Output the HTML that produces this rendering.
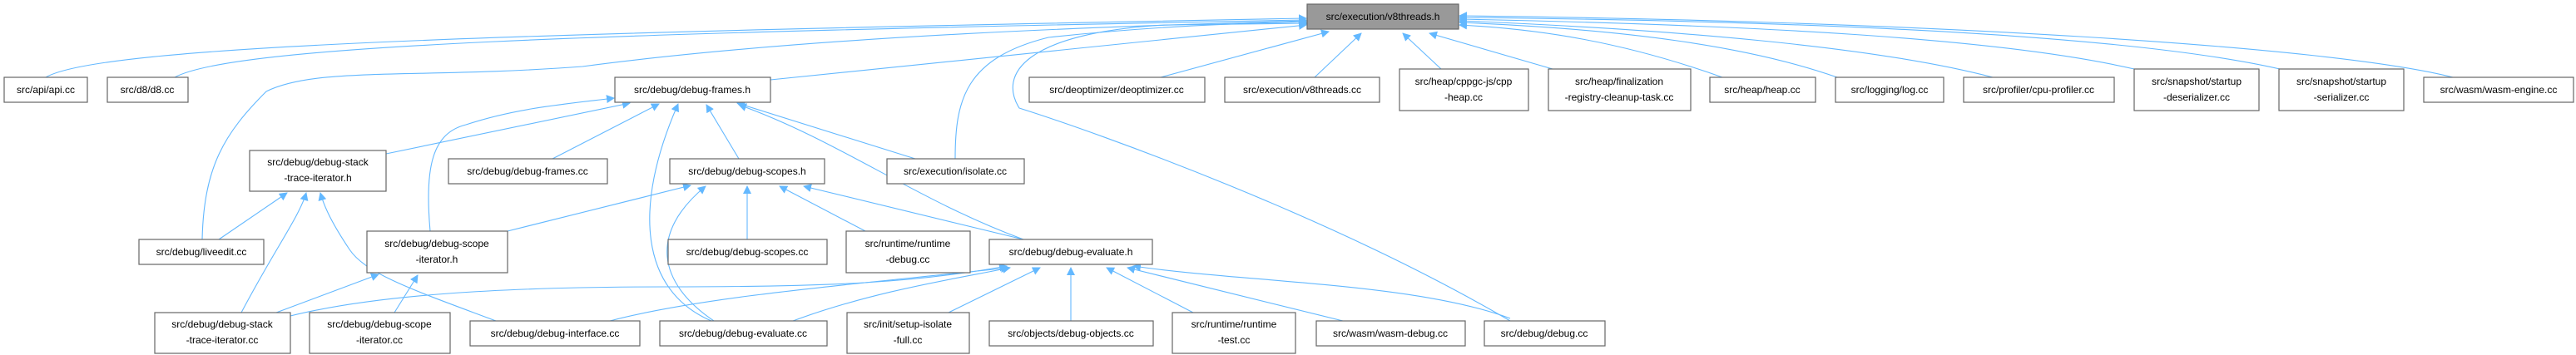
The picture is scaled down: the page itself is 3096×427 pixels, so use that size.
<!DOCTYPE html>
<html><head><meta charset="utf-8"><style>
html,body{margin:0;padding:0;background:#fff;}
svg{display:block;}
text{font-family:"Liberation Sans",sans-serif;font-size:12px;fill:#000;}
.n{fill:#fff;stroke:#666;stroke-width:1.2;}
.e{fill:none;stroke:#63b8ff;stroke-width:1.1;}
</style></head><body>
<svg width="3096" height="427" viewBox="0 0 3096 427" xmlns="http://www.w3.org/2000/svg">
<defs><marker id="a" markerWidth="10" markerHeight="10" refX="9" refY="5" orient="auto" markerUnits="userSpaceOnUse"><path d="M0,0 L10,5 L0,10 z" fill="#63b8ff"/></marker></defs>
<g class="e" marker-end="url(#a)">
<!-- to v8threads.h -->
<path d="M55,93 C120,55 600,40 1570,22"/>
<path d="M210,93 C280,55 700,40 1570,24"/>
<path d="M243,288 C245,200 270,160 320,110 C380,80 500,95 700,80 C1000,40 1400,30 1570,25"/>
<path d="M926,96 L1570,30"/>
<path d="M1148,191 C1148,120 1160,70 1260,45 C1400,30 1500,28 1570,26"/>
<path d="M1815,386 C1600,260 1320,160 1225,130 C1200,90 1230,40 1400,30 L1572,28"/>
<path d="M1395,93 L1597,38"/>
<path d="M1580,93 L1636,40"/>
<path d="M1732,83 L1686,40"/>
<path d="M1866,83 L1718,40"/>
<path d="M2070,93 C1950,50 1850,35 1754,30"/>
<path d="M2208,93 C2100,55 1950,35 1754,27"/>
<path d="M2395,93 C2250,55 2000,35 1754,25"/>
<path d="M2565,83 C2400,45 2100,30 1754,23"/>
<path d="M2740,83 C2550,40 2150,25 1754,21"/>
<path d="M2948,93 C2800,55 2300,25 1754,19"/>
<!-- to debug-frames.h -->
<path d="M464,185 L757,124"/>
<path d="M517,278 C510,200 520,160 560,150 C620,130 680,125 738,118"/>
<path d="M664,191 L792,125"/>
<path d="M888,191 L849,126"/>
<path d="M855,386 C770,350 760,250 815,125"/>
<path d="M1100,191 L886,124"/>
<path d="M1230,288 C1100,240 1010,170 888,126"/>
<!-- to stack-trace-iterator.h -->
<path d="M263,288 L345,232"/>
<path d="M290,376 C330,300 360,260 368,232"/>
<path d="M596,386 C500,350 440,330 420,300 C400,270 390,250 385,232"/>
<!-- to debug-scopes.h -->
<path d="M610,278 L830,223"/>
<path d="M858,386 C790,340 780,280 848,224"/>
<path d="M898,288 L898,224"/>
<path d="M1040,278 L937,224"/>
<path d="M1230,288 L966,224"/>
<!-- to scope-iterator.h -->
<path d="M332,376 L455,330"/>
<path d="M474,376 L502,331"/>
<!-- to debug-evaluate.h -->
<path d="M349,380 C450,355 600,345 800,345 C1000,345 1100,340 1210,320"/>
<path d="M733,386 C850,355 1050,340 1212,322"/>
<path d="M953,386 C1050,350 1150,335 1214,322"/>
<path d="M1140,376 L1250,322"/>
<path d="M1287,386 L1287,322"/>
<path d="M1434,376 L1330,322"/>
<path d="M1614,386 L1355,322"/>
<path d="M1815,383 C1700,340 1500,340 1362,320"/>
</g>
<g>
<rect x="1571" y="5" width="182" height="30" fill="#999" stroke="#666" stroke-width="1.2"/>
<text x="1662" y="24" text-anchor="middle">src/execution/v8threads.h</text>
</g>
<g text-anchor="middle">
<rect class="n" x="5" y="93" width="100" height="30"/><text x="55" y="112">src/api/api.cc</text>
<rect class="n" x="129" y="93" width="97" height="30"/><text x="177" y="112">src/d8/d8.cc</text>
<rect class="n" x="739" y="93" width="187" height="30"/><text x="832" y="112">src/debug/debug-frames.h</text>
<rect class="n" x="1237" y="93" width="211" height="30"/><text x="1342" y="112">src/deoptimizer/deoptimizer.cc</text>
<rect class="n" x="1472" y="93" width="186" height="30"/><text x="1565" y="112">src/execution/v8threads.cc</text>
<rect class="n" x="1682" y="83" width="155" height="50"/><text x="1759" y="102">src/heap/cppgc-js/cpp</text><text x="1759" y="121">-heap.cc</text>
<rect class="n" x="1861" y="83" width="171" height="50"/><text x="1946" y="102">src/heap/finalization</text><text x="1946" y="121">-registry-cleanup-task.cc</text>
<rect class="n" x="2055" y="93" width="127" height="30"/><text x="2118" y="112">src/heap/heap.cc</text>
<rect class="n" x="2206" y="93" width="130" height="30"/><text x="2271" y="112">src/logging/log.cc</text>
<rect class="n" x="2360" y="93" width="181" height="30"/><text x="2450" y="112">src/profiler/cpu-profiler.cc</text>
<rect class="n" x="2565" y="83" width="150" height="50"/><text x="2640" y="102">src/snapshot/startup</text><text x="2640" y="121">-deserializer.cc</text>
<rect class="n" x="2739" y="83" width="150" height="50"/><text x="2814" y="102">src/snapshot/startup</text><text x="2814" y="121">-serializer.cc</text>
<rect class="n" x="2913" y="93" width="180" height="30"/><text x="3003" y="112">src/wasm/wasm-engine.cc</text>

<rect class="n" x="300" y="181" width="164" height="49"/><text x="382" y="199">src/debug/debug-stack</text><text x="382" y="218">-trace-iterator.h</text>
<rect class="n" x="539" y="191" width="191" height="30"/><text x="634" y="210">src/debug/debug-frames.cc</text>
<rect class="n" x="805" y="191" width="186" height="30"/><text x="898" y="210">src/debug/debug-scopes.h</text>
<rect class="n" x="1066" y="191" width="165" height="30"/><text x="1148" y="210">src/execution/isolate.cc</text>

<rect class="n" x="167" y="288" width="150" height="30"/><text x="242" y="307">src/debug/liveedit.cc</text>
<rect class="n" x="441" y="278" width="169" height="50"/><text x="525" y="297">src/debug/debug-scope</text><text x="525" y="316">-iterator.h</text>
<rect class="n" x="803" y="288" width="191" height="30"/><text x="898" y="307">src/debug/debug-scopes.cc</text>
<rect class="n" x="1017" y="278" width="149" height="50"/><text x="1091" y="297">src/runtime/runtime</text><text x="1091" y="316">-debug.cc</text>
<rect class="n" x="1189" y="288" width="196" height="30"/><text x="1287" y="307">src/debug/debug-evaluate.h</text>

<rect class="n" x="186" y="376" width="163" height="49"/><text x="267" y="394">src/debug/debug-stack</text><text x="267" y="413">-trace-iterator.cc</text>
<rect class="n" x="372" y="376" width="169" height="49"/><text x="456" y="394">src/debug/debug-scope</text><text x="456" y="413">-iterator.cc</text>
<rect class="n" x="565" y="386" width="204" height="30"/><text x="667" y="405">src/debug/debug-interface.cc</text>
<rect class="n" x="793" y="386" width="201" height="30"/><text x="893" y="405">src/debug/debug-evaluate.cc</text>
<rect class="n" x="1018" y="376" width="147" height="49"/><text x="1091" y="394">src/init/setup-isolate</text><text x="1091" y="413">-full.cc</text>
<rect class="n" x="1189" y="386" width="197" height="30"/><text x="1287" y="405">src/objects/debug-objects.cc</text>
<rect class="n" x="1409" y="376" width="148" height="49"/><text x="1483" y="394">src/runtime/runtime</text><text x="1483" y="413">-test.cc</text>
<rect class="n" x="1582" y="386" width="179" height="30"/><text x="1671" y="405">src/wasm/wasm-debug.cc</text>
<rect class="n" x="1784" y="386" width="145" height="30"/><text x="1856" y="405">src/debug/debug.cc</text>
</g>
</svg>
</body></html>
